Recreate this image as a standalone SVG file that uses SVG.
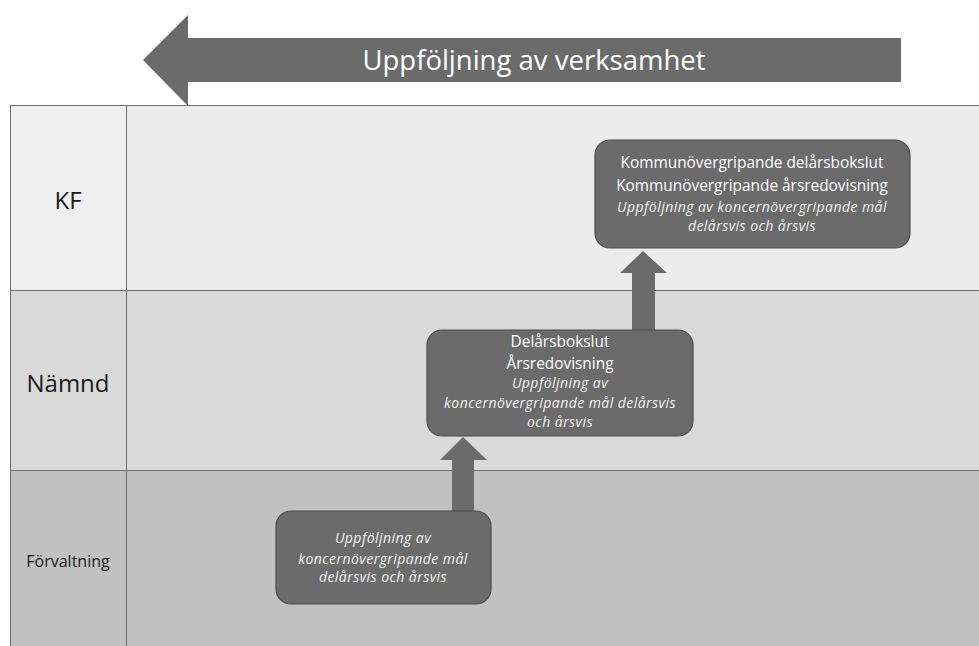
<svg xmlns="http://www.w3.org/2000/svg" width="979" height="646" viewBox="0 0 979 646">
<style>
.lbl{font-family:"Open Sans","Liberation Sans",sans-serif;fill:#1a1a1a;text-anchor:middle}
.box{fill:#6b6b6b;stroke:#4d4d4d;stroke-width:1.2}
.t{font-family:"Open Sans","Liberation Sans",sans-serif;fill:#ffffff;text-anchor:middle;font-size:15.4px}
.i{font-family:"Open Sans","Liberation Sans",sans-serif;fill:#f2f2f2;text-anchor:middle;font-size:14px;font-style:italic;letter-spacing:0.45px}
.grid{stroke:#6e6e6e;stroke-width:1;fill:none}
.arr{fill:#6b6b6b}
</style>
<rect width="979" height="646" fill="#ffffff"/>
<g id="banner">
<polygon class="arr" points="143,60 188,15 188,38 901,38 901,82 188,82 188,106"/>
<text x="534" y="70" font-family="Open Sans, Liberation Sans, sans-serif" font-size="27.5" fill="#ffffff" text-anchor="middle">Uppföljning av verksamhet</text>
</g>
<g id="lanes">
<rect x="10" y="105" width="969" height="185" fill="#ececec"/>
<rect x="10" y="290" width="969" height="180" fill="#d9d9d9"/>
<rect x="10" y="470" width="969" height="176" fill="#c1c1c1"/>
<rect x="10" y="105" width="116" height="185" fill="#efefef"/>
<path class="grid" d="M10.5,646 V105.5 H979 M126.5,105 V646 M10,290.5 H979 M10,470.5 H979"/>
<text class="lbl" x="68" y="209" font-size="24">KF</text>
<text class="lbl" x="68" y="392" font-size="24">Nämnd</text>
<text class="lbl" x="68" y="567" font-size="16">Förvaltning</text>
</g>
<g id="connectors">
<polygon class="arr" points="643,251 667,273 655,273 655,331 632,331 632,273 620,273"/>
<polygon class="arr" points="463,437 487,460 474,460 474,512 452,512 452,460 440,460"/>
</g>
<g id="node-kf">
<rect class="box" x="595" y="140" width="315" height="108" rx="15"/>
<text class="t" x="752" y="168">Kommunövergripande delårsbokslut</text>
<text class="t" x="752" y="191">Kommunövergripande årsredovisning</text>
<text class="i" x="752" y="212">Uppföljning av koncernövergripande mål</text>
<text class="i" x="752" y="231">delårsvis och årsvis</text>
</g>
<g id="node-namnd">
<rect class="box" x="427" y="330" width="266" height="106" rx="15"/>
<text class="t" x="560" y="347">Delårsbokslut</text>
<text class="t" x="560" y="369">Årsredovisning</text>
<text class="i" x="560" y="388">Uppföljning av</text>
<text class="i" x="560" y="408">koncernövergripande mål delårsvis</text>
<text class="i" x="560" y="427">och årsvis</text>
</g>
<g id="node-forvaltning">
<rect class="box" x="276" y="511" width="215" height="93" rx="15"/>
<text class="i" x="383" y="543">Uppföljning av</text>
<text class="i" x="383" y="564">koncernövergripande mål</text>
<text class="i" x="383" y="582">delårsvis och årsvis</text>
</g>
</svg>
